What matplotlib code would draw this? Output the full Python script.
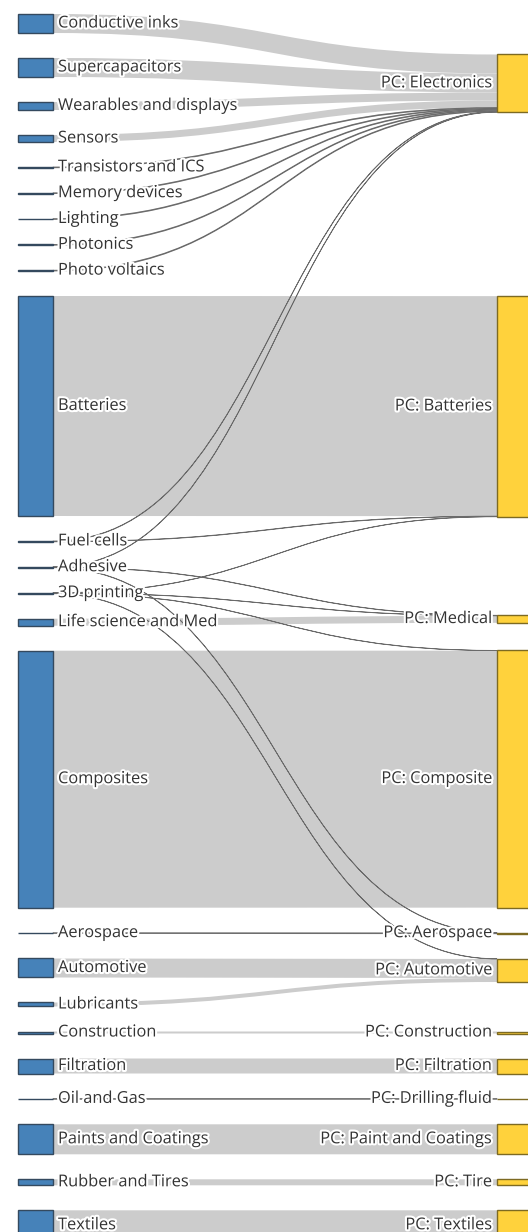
import matplotlib.pyplot as plt
from matplotlib.path import Path
from matplotlib.patches import PathPatch, Rectangle
import matplotlib.patheffects as pe

# Sankey: application areas -> product categories
left_names = ["Conductive inks", "Supercapacitors", "Wearables and displays", "Sensors",
              "Transistors and ICS", "Memory devices", "Lighting", "Photonics",
              "Photo voltaics", "Batteries", "Fuel cells", "Adhesive", "3D printing",
              "Life science and Med", "Composites", "Aerospace", "Automotive",
              "Lubricants", "Construction", "Filtration", "Oil and Gas",
              "Paints and Coatings", "Rubber and Tires", "Textiles"]
right_names = ["PC: Electronics", "PC: Batteries", "PC: Medical", "PC: Composite",
               "PC: Aerospace", "PC: Automotive", "PC: Construction", "PC: Filtration",
               "PC: Drilling fluid", "PC: Paint and Coatings", "PC: Tire", "PC: Textiles"]

link_source = ["Conductive inks", "Supercapacitors", "Wearables and displays", "Sensors",
               "Transistors and ICS", "Memory devices", "Lighting", "Photonics",
               "Photo voltaics", "Fuel cells", "Adhesive",
               "Batteries", "Fuel cells", "3D printing",
               "Adhesive", "3D printing", "Life science and Med",
               "3D printing", "Composites",
               "Adhesive", "Aerospace",
               "Automotive", "Lubricants", "3D printing",
               "Construction", "Filtration", "Oil and Gas",
               "Paints and Coatings", "Rubber and Tires", "Textiles"]
link_target = ["PC: Electronics"] * 11 + \
              ["PC: Batteries"] * 3 + \
              ["PC: Medical"] * 3 + \
              ["PC: Composite"] * 2 + \
              ["PC: Aerospace"] * 2 + \
              ["PC: Automotive"] * 3 + \
              ["PC: Construction", "PC: Filtration", "PC: Drilling fluid",
               "PC: Paint and Coatings", "PC: Tire", "PC: Textiles"]
link_value = [19, 19, 8, 7,
              0.8, 0.8, 0.8, 0.8,
              0.8, 0.4, 0.3,
              220, 0.4, 0.25,
              0.3, 0.25, 7,
              0.25, 257,
              0.3, 0.8,
              19, 4, 0.25,
              2, 15, 0.8,
              30, 6, 30]

# layout
W, H = 528, 1232
top, pad, node_w = 14, 25, 35
xl0, xr0 = 18, 497

fig = plt.figure(figsize=(W / 100, H / 100), dpi=100)
ax = fig.add_axes([0, 0, 1, 1])
ax.set_xlim(0, W)
ax.set_ylim(H, 0)
ax.axis("off")

links = list(zip(link_source, link_target, link_value))
lval = {n: sum(v for s, t, v in links if s == n) for n in left_names}
rval = {n: sum(v for s, t, v in links if t == n) for n in right_names}

# left column stacked
lpos = {}
y = top
for n in left_names:
    lpos[n] = (y, y + lval[n])
    y += lval[n] + pad
lc = {n: (a + b) / 2 for n, (a, b) in lpos.items()}

# right column: centre on weighted sources, then push apart
rpos = {}
y = top
for n in right_names:
    inc = [(lc[s], v) for s, t, v in links if t == n]
    c = sum(a * v for a, v in inc) / sum(v for a, v in inc)
    y0 = max(c - rval[n] / 2, y)
    rpos[n] = (y0, y0 + rval[n])
    y = y0 + rval[n] + pad
rc = {n: (a + b) / 2 for n, (a, b) in rpos.items()}

# link offsets
soff = {n: lpos[n][0] for n in left_names}
toff = {n: rpos[n][0] for n in right_names}
seg = {}
for i in sorted(range(len(links)), key=lambda k: rc[links[k][1]]):
    s, t, v = links[i]
    seg.setdefault(i, [0, 0])[0] = soff[s]
    soff[s] += v
for i in sorted(range(len(links)), key=lambda k: lc[links[k][0]]):
    s, t, v = links[i]
    seg[i][1] = toff[t]
    toff[t] += v

x0, x1 = xl0 + node_w, xr0
xm = (x0 + x1) / 2
# big bands first so the thin links stay visible on top
for i in sorted(range(len(links)), key=lambda k: -links[k][2]):
    s, t, v = links[i]
    s0, t0 = seg[i]
    s1, t1 = s0 + v, t0 + v
    verts = [(x0, s0), (xm, s0), (xm, t0), (x1, t0), (x1, t1),
             (xm, t1), (xm, s1), (x0, s1), (x0, s0)]
    codes = [Path.MOVETO, Path.CURVE4, Path.CURVE4, Path.CURVE4, Path.LINETO,
             Path.CURVE4, Path.CURVE4, Path.CURVE4, Path.CLOSEPOLY]
    if v < 1:
        patch = PathPatch(Path(verts, codes), facecolor="#bdbdbd", edgecolor="#6a6a6a",
                          lw=0.55, zorder=1)
    else:
        patch = PathPatch(Path(verts, codes), facecolor="#cccccc", edgecolor="none",
                          zorder=1)
    ax.add_patch(patch)

halo = [pe.withStroke(linewidth=3, foreground="white")]
fs = 11.8
for n in left_names:
    a, b = lpos[n]
    ax.add_patch(Rectangle((xl0, a), node_w, b - a, facecolor="#4682b9",
                           edgecolor="#34495e", lw=1.0, zorder=2))
    ax.text(x0 + 5, (a + b) / 2, n, ha="left", va="center", fontsize=fs,
            family="Open Sans", color="#333333", path_effects=halo, zorder=3)
for n in right_names:
    a, b = rpos[n]
    ax.add_patch(Rectangle((xr0, a), node_w, b - a, facecolor="#ffd23c",
                           edgecolor="#7d6a22", lw=1.0, zorder=2))
    ax.text(xr0 - 5, (a + b) / 2, n, ha="right", va="center", fontsize=fs,
            family="Open Sans", color="#333333", path_effects=halo, zorder=3)

fig.savefig("out.png", dpi=100)
plt.close()
